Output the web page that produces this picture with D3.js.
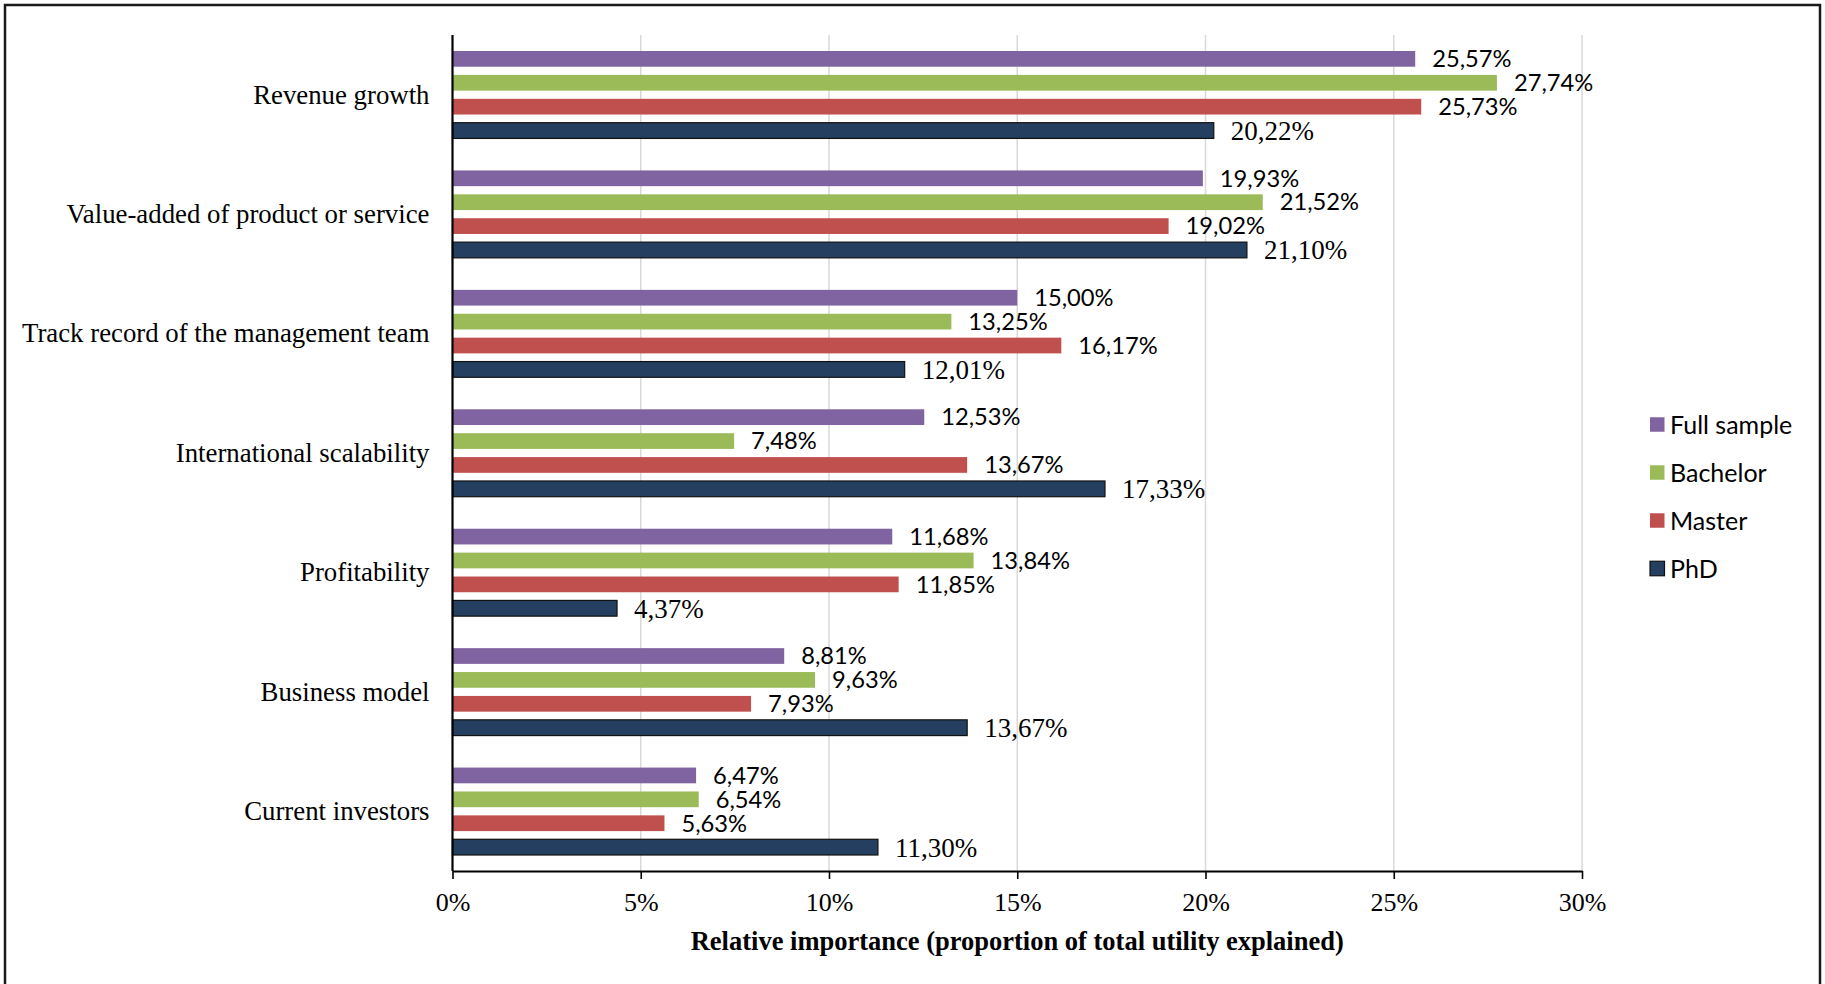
<!DOCTYPE html>
<html>
<head>
<meta charset="utf-8">
<script src="https://cdn.jsdelivr.net/npm/d3@7"></script>
<style>
  html, body { margin: 0; padding: 0; background: #fff; }
  svg { display: block; }
</style>
</head>
<body>
<svg id="chart" width="1825" height="984"></svg>
<script>
// Attribute importance by education level
const categories = [
  "Revenue growth",
  "Value-added of product or service",
  "Track record of the management team",
  "International scalability",
  "Profitability",
  "Business model",
  "Current investors"
];
const seriesNames = ["Full sample", "Bachelor", "Master", "PhD"];
const fullSample = [25.57, 19.93, 15.00, 12.53, 11.68, 8.81, 6.47];
const bachelor   = [27.74, 21.52, 13.25, 7.48, 13.84, 9.63, 6.54];
const master     = [25.73, 19.02, 16.17, 13.67, 11.85, 7.93, 5.63];
const phd        = [20.22, 21.10, 12.01, 17.33, 4.37, 13.67, 11.30];
const xTicks = [0, 5, 10, 15, 20, 25, 30];
const xTitle = "Relative importance (proportion of total utility explained)";

const seriesValues = [fullSample, bachelor, master, phd];
const colors = ["#8064A2", "#9BBB59", "#C0504D", "#243F60"];

const svg = d3.select("#chart");
const serif = "'Liberation Serif', 'Times New Roman', serif";
const sans = "Lato, 'Open Sans', sans-serif";

// Plot frame
const plotLeft = 452.5, plotRight = 1582, plotTop = 35, plotBottom = 871;

const x = d3.scaleLinear().domain([0, 30]).range([plotLeft, plotRight]);
const y0 = d3.scaleBand().domain(categories).range([plotTop, plotBottom]);
const y1 = d3.scaleBand().domain(seriesNames)
  .range([16, y0.bandwidth() - 16]).paddingInner(0.342);

// Outer border
svg.append("rect")
  .attr("x", 5).attr("y", 5).attr("width", 1815).attr("height", 1100)
  .attr("fill", "none").attr("stroke", "#1a1a1a").attr("stroke-width", 2.5);

// Vertical gridlines
svg.append("g").selectAll("line")
  .data(xTicks.filter(t => t > 0))
  .join("line")
  .attr("x1", d => x(d)).attr("x2", d => x(d))
  .attr("y1", plotTop).attr("y2", plotBottom)
  .attr("stroke", "#D9D9D9").attr("stroke-width", 1.5);

// Bars
const rows = [];
categories.forEach((c, i) => {
  seriesNames.forEach((s, j) => rows.push({ cat: c, series: s, si: j, value: seriesValues[j][i] }));
});

const groups = svg.append("g");
groups.selectAll("rect")
  .data(rows)
  .join("rect")
  .attr("x", x(0))
  .attr("y", d => y0(d.cat) + y1(d.series))
  .attr("width", d => x(d.value) - x(0))
  .attr("height", y1.bandwidth())
  .attr("fill", d => colors[d.si])
  .attr("stroke", d => d.si === 3 ? "#111" : "none")
  .attr("stroke-width", 1.2);

// Value labels
const fmt = v => v.toFixed(2).replace(".", ",") + "%";
groups.selectAll("text")
  .data(rows)
  .join("text")
  .attr("x", d => x(d.value) + 17)
  .attr("y", d => y0(d.cat) + y1(d.series) + y1.bandwidth() / 2)
  .attr("dy", "0.35em")
  .attr("font-family", d => d.si === 3 ? serif : sans)
  .attr("font-size", d => d.si === 3 ? 27 : 23.7)
  .attr("fill", "#000")
  .text(d => fmt(d.value));

// Category labels
svg.append("g").selectAll("text")
  .data(categories)
  .join("text")
  .attr("x", plotLeft - 23)
  .attr("y", d => y0(d) + y0.bandwidth() / 2)
  .attr("dy", "0.33em")
  .attr("text-anchor", "end")
  .attr("font-family", serif)
  .attr("font-size", 26.8)
  .attr("fill", "#000")
  .text(d => d);

// X axis
const xAxis = d3.axisBottom(x)
  .tickValues(xTicks)
  .tickSize(8)
  .tickSizeOuter(0)
  .tickFormat(d => d + "%");
const gx = svg.append("g").attr("transform", `translate(0,${plotBottom})`).call(xAxis);
gx.select(".domain").attr("stroke", "#000").attr("stroke-width", 2.2);
gx.selectAll(".tick line").attr("stroke", "#000").attr("stroke-width", 1.6);
gx.selectAll(".tick text")
  .attr("font-family", serif).attr("font-size", 26).attr("fill", "#000")
  .attr("y", 40).attr("dy", 0);

// Y axis line
svg.append("line")
  .attr("x1", plotLeft).attr("x2", plotLeft).attr("y1", plotTop).attr("y2", plotBottom)
  .attr("stroke", "#000").attr("stroke-width", 2.2);

// X axis title
svg.append("text")
  .attr("x", (plotLeft + plotRight) / 2).attr("y", 950)
  .attr("text-anchor", "middle")
  .attr("font-family", serif).attr("font-weight", "bold").attr("font-size", 26.5)
  .attr("fill", "#000")
  .text(xTitle);

// Legend
const legend = svg.append("g").attr("transform", "translate(1650,424.5)");
const li = legend.selectAll("g").data(seriesNames).join("g")
  .attr("transform", (d, i) => `translate(0,${i * 48})`);
li.append("rect")
  .attr("x", 0).attr("y", -7.25).attr("width", 14.5).attr("height", 14.5)
  .attr("fill", (d, i) => colors[i])
  .attr("stroke", (d, i) => i === 3 ? "#111" : "none").attr("stroke-width", 1.2);
li.append("text")
  .attr("x", 20).attr("y", 0).attr("dy", "0.36em")
  .attr("font-family", sans).attr("font-size", 25).attr("fill", "#000")
  .text(d => d);
</script>
</body>
</html>
